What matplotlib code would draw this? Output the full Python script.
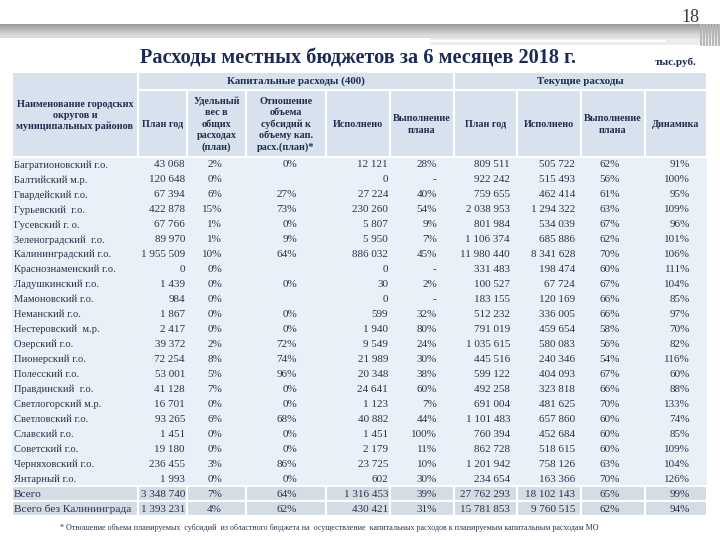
import matplotlib
matplotlib.use("Agg")
import matplotlib.pyplot as plt
from matplotlib.patches import Rectangle
import numpy as np

# ---------------- data ----------------
names = ["Багратионовский г.о.", "Балтийский м.р.", "Гвардейский г.о.", "Гурьевский  г.о.",
         "Гусевский г. о.", "Зеленоградский  г.о.", "Калининградский г.о.", "Краснознаменский г.о.",
         "Ладушкинский г.о.", "Мамоновский г.о.", "Неманский г.о.", "Нестеровский  м.р.",
         "Озерский г.о.", "Пионерский г.о.", "Полесский г.о.", "Правдинский  г.о.",
         "Светлогорский м.р.", "Светловский г.о.", "Славский г.о.", "Советский г.о.",
         "Черняховский г.о.", "Янтарный г.о.", "Всего", "Всего без Калининграда"]
cap_plan = [43068, 120648, 67394, 422878, 67766, 89970, 1955509, 0, 1439, 984, 1867, 2417,
            39372, 72254, 53001, 41128, 16701, 93265, 1451, 19180, 236455, 1993, 3348740, 1393231]
cap_share = [2, 0, 6, 15, 1, 1, 10, 0, 0, 0, 0, 0, 2, 8, 5, 7, 0, 6, 0, 0, 3, 0, 7, 4]
subs_ratio = [0, None, 27, 73, 0, 9, 64, None, 0, None, 0, 0, 72, 74, 96, 0, 0, 68, 0, 0, 86, 0, 64, 62]
cap_done = [12121, 0, 27224, 230260, 5807, 5950, 886032, 0, 30, 0, 599, 1940, 9549, 21989,
            20348, 24641, 1123, 40882, 1451, 2179, 23725, 602, 1316453, 430421]
cap_exec = [28, None, 40, 54, 9, 7, 45, None, 2, None, 32, 80, 24, 30, 38, 60, 7, 44, 100, 11,
            10, 30, 39, 31]
cur_plan = [809511, 922242, 759655, 2038953, 801984, 1106374, 11980440, 331483, 100527, 183155,
            512232, 791019, 1035615, 445516, 599122, 492258, 691004, 1101483, 760394, 862728,
            1201942, 234654, 27762293, 15781853]
cur_done = [505722, 515493, 462414, 1294322, 534039, 685886, 8341628, 198474, 67724, 120169,
            336005, 459654, 580083, 240346, 404093, 323818, 481625, 657860, 452684, 518615,
            758126, 163366, 18102143, 9760515]
cur_exec = [62, 56, 61, 63, 67, 62, 70, 60, 67, 66, 66, 58, 56, 54, 67, 66, 70, 60, 60, 60, 63, 70, 65, 62]
dynamics = [91, 100, 95, 109, 96, 101, 106, 111, 104, 85, 97, 70, 82, 116, 60, 88, 133, 74, 85,
            109, 104, 126, 99, 94]

headers = ["Наименование городских\nокругов и\nмуниципальных районов", "План год",
           "Удельный\nвес в\nобщих\nрасходах\n(план)",
           "Отношение\nобъема\nсубсидий к\nобъему кап.\nрасх.(план)*",
           "Исполнено", "Выполнение\nплана", "План год", "Исполнено", "Выполнение\nплана", "Динамика"]
group_headers = ["Капитальные расходы (400)", "Текущие расходы"]
title = "Расходы местных бюджетов за 6 месяцев 2018 г."
units = "тыс.руб."
page_no = "18"
footnote = ("* Отношение объема планируемых  субсидий  из областного бюджета на  осуществление  "
            "капитальных расходов к планируемым капитальным расходам МО")


def fnum(v):
    return f"{v:,}".replace(",", " ")


def fpct(v, blank=""):
    return blank if v is None else f"{v}%"


# ---------------- layout ----------------
plt.rcParams['font.family'] = ['Liberation Serif', 'DejaVu Serif']
fig = plt.figure(figsize=(7.2, 5.4), dpi=100)
ax = fig.add_axes([0, 0, 1, 1])
ax.set_xlim(0, 720)
ax.set_ylim(540, 0)
ax.axis('off')

# top banner
grad = np.linspace(0, 1, 20).reshape(-1, 1)
ax.imshow(np.dstack([0.60 + 0.25 * grad] * 3), extent=(0, 720, 35, 24), aspect='auto', zorder=1)
ax.add_patch(Rectangle((0, 35), 720, 3, color='#dcdcdc', zorder=1, lw=0))
ax.add_patch(Rectangle((430, 38), 290, 7, color='#ececec', zorder=1, lw=0))
ax.plot([430, 665], [40.5, 40.5], color='white', lw=1.5, zorder=2)
for xs in range(700, 720, 3):
    ax.add_patch(Rectangle((xs, 24), 1.5, 22, color='#b8b8b8', zorder=2, lw=0))

ax.text(690, 18, page_no, fontsize=13, color='#3a3a3a', ha='center', va='center')
ax.text(358, 58.5, title, fontsize=14.6, fontweight='bold', color='#1c2b55', ha='center', va='center')
ax.text(676, 62, units, fontsize=8, fontweight='bold', color='#1c2b55', ha='center', va='center')

edges = [12, 138, 187, 246, 326, 390, 454, 517, 581, 645, 707]
right_x = [None, 185, 222, 297, 388, 437, 510, 575, 620, 690]
y0, y1, y2 = 72, 90, 157
n = len(names)
row_h = (516 - y2) / n
hdr_bg = '#d7e2ee'
data_bg = '#e9f0f8'
tot_bg = '#d4dce6'
txt_c = '#28344c'
hdr_c = '#1f2d4d'


def cell(x0, x1, ya, yb, color):
    ax.add_patch(Rectangle((x0, ya), x1 - x0, yb - ya, facecolor=color, edgecolor='white', lw=1.5, zorder=3))


cell(edges[0], edges[1], y0, y2, hdr_bg)
cell(edges[1], edges[6], y0, y1, hdr_bg)
cell(edges[6], edges[10], y0, y1, hdr_bg)
ax.text((edges[1] + edges[6]) / 2, (y0 + y1) / 2, group_headers[0], fontsize=7.8, fontweight='bold',
        color=hdr_c, ha='center', va='center', zorder=4)
ax.text((edges[6] + edges[10]) / 2, (y0 + y1) / 2, group_headers[1], fontsize=7.8, fontweight='bold',
        color=hdr_c, ha='center', va='center', zorder=4)
for j in range(1, 10):
    cell(edges[j], edges[j + 1], y1, y2, hdr_bg)
for j in range(10):
    ya = y0 if j == 0 else y1
    ax.text((edges[j] + edges[j + 1]) / 2, (ya + y2) / 2 + 1, headers[j], fontsize=7.3, fontweight='bold',
            color=hdr_c, ha='center', va='center', linespacing=1.3, zorder=4)

# data background
n_data = n - 2
ax.add_patch(Rectangle((edges[0], y2), edges[-1] - edges[0], n_data * row_h, facecolor=data_bg,
                       edgecolor='none', zorder=2))
for i in range(n_data, n):
    for j in range(10):
        cell(edges[j], edges[j + 1], y2 + i * row_h, y2 + (i + 1) * row_h, tot_bg)

for i in range(n):
    yc = y2 + (i + 0.5) * row_h + 0.5
    vals = [fnum(cap_plan[i]), fpct(cap_share[i]), fpct(subs_ratio[i]), fnum(cap_done[i]),
            fpct(cap_exec[i], '-'), fnum(cur_plan[i]), fnum(cur_done[i]), fpct(cur_exec[i]),
            fpct(dynamics[i])]
    fs_name = 8.2 if i >= n_data else 7.6
    ax.text(edges[0] + 2, yc, names[i], fontsize=fs_name, color=txt_c, ha='left', va='center', zorder=5)
    for j, v in enumerate(vals, start=1):
        xr = right_x[j]
        if v == '-':
            xr -= 1
        ax.text(xr, yc, v, fontsize=8, color=txt_c, ha='right', va='center', zorder=5)

ax.text(329, 528, footnote, fontsize=5.75, color='#28344c', ha='center', va='center')

fig.savefig("out.png", dpi=100)
